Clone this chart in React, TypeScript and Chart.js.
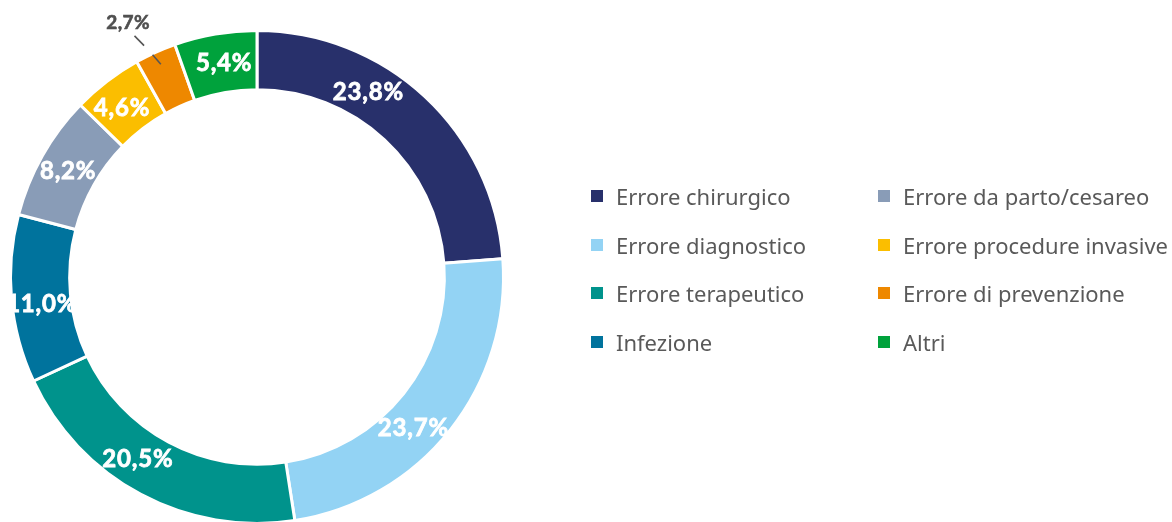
import React, { useEffect, useRef } from "react";
import { Chart, registerables } from "chart.js";

Chart.register(...registerables);

const categories = [
  "Errore chirurgico",
  "Errore diagnostico",
  "Errore terapeutico",
  "Infezione",
  "Errore da parto/cesareo",
  "Errore procedure invasive",
  "Errore di prevenzione",
  "Altri",
];
const values = [23.8, 23.7, 20.5, 11.0, 8.2, 4.6, 2.7, 5.4];
const valueLabels = ["23,8%", "23,7%", "20,5%", "11,0%", "8,2%", "4,6%", "2,7%", "5,4%"];
const colors = ["#28306b", "#93d3f4", "#00938c", "#00739d", "#899cb7", "#fbbe00", "#ee8800", "#00a23c"];
// label placement tweaks (degrees), outside flag
const labelAngleShift = [-12, 5.4, 5.2, -1.8, 0, -1, 0, 1];
const labelOutside = [false, false, false, false, false, false, true, false];

const labelPlugin = {
  id: "sliceLabels",
  afterDatasetsDraw(chart: any) {
    const ctx = chart.ctx;
    const meta = chart.getDatasetMeta(0);
    ctx.save();
    meta.data.forEach((arc: any, i: number) => {
      const p = arc.getProps(["x", "y", "startAngle", "endAngle", "innerRadius", "outerRadius"], true);
      const mid = (p.startAngle + p.endAngle) / 2;
      if (labelOutside[i]) {
        const seg = (r1: number, r2: number, a1: number, a2: number) => {
          ctx.beginPath();
          ctx.moveTo(p.x + r1 * Math.cos(a1), p.y + r1 * Math.sin(a1));
          ctx.lineTo(p.x + r2 * Math.cos(a2), p.y + r2 * Math.sin(a2));
          ctx.stroke();
        };
        ctx.strokeStyle = "#555555";
        ctx.lineWidth = 1.6;
        const a0 = mid;
        const a1 = mid - (2.6 * Math.PI) / 180;
        const rIn = p.outerRadius - 13;
        const rOut = p.outerRadius + 24;
        const f = (r: number) => a0 + ((a1 - a0) * (r - rIn)) / (rOut - rIn);
        seg(rIn, p.outerRadius - 1, a0, f(p.outerRadius - 1));
        seg(p.outerRadius + 11, rOut, f(p.outerRadius + 11), a1);
        const rt = p.outerRadius + 39;
        const at = mid - (2.5 * Math.PI) / 180;
        ctx.fillStyle = "#505050";
        ctx.strokeStyle = "#505050";
        ctx.lineWidth = 0.6;
        ctx.font = "bold 19px Lato";
        (ctx as any).letterSpacing = "0.5px";
        ctx.textAlign = "center";
        ctx.textBaseline = "middle";
        const tx = p.x + rt * Math.cos(at);
        const ty = p.y + rt * Math.sin(at) + 1;
        ctx.fillText(valueLabels[i], tx, ty);
        ctx.strokeText(valueLabels[i], tx, ty);
      } else {
        const a = mid + (labelAngleShift[i] * Math.PI) / 180;
        const r = (p.innerRadius + p.outerRadius) / 2;
        ctx.fillStyle = "#ffffff";
        ctx.strokeStyle = "#ffffff";
        ctx.lineWidth = 0.8;
        ctx.font = "bold 24px Lato";
        (ctx as any).letterSpacing = "0.8px";
        ctx.textAlign = "center";
        ctx.textBaseline = "middle";
        const tx = p.x + r * Math.cos(a);
        const ty = p.y + r * Math.sin(a) + 1;
        ctx.fillText(valueLabels[i], tx, ty);
        ctx.strokeText(valueLabels[i], tx, ty);
      }
    });
    ctx.restore();
  },
};

export default function App() {
  const ref = useRef<HTMLCanvasElement>(null);
  useEffect(() => {
    if (!ref.current) return;
    const chart = new Chart(ref.current, {
      type: "doughnut",
      data: {
        labels: categories,
        datasets: [
          {
            data: values,
            backgroundColor: colors,
            borderColor: "#ffffff",
            borderWidth: 3,
            hoverOffset: 0,
          },
        ],
      },
      options: {
        responsive: false,
        animation: false,
        cutout: "76%",
        layout: { padding: { left: 9, top: 29, right: 1172 - 9 - 496, bottom: 560 - 29 - 496 } },
        plugins: { legend: { display: false }, tooltip: { enabled: false } },
      },
      plugins: [labelPlugin],
    });
    return () => chart.destroy();
  }, []);

  const col1 = [0, 1, 2, 3];
  const col2 = [4, 5, 6, 7];
  const rowY = [196, 244.5, 293, 341.5];
  const item = (i: number, x: number, y: number) => (
    <div
      key={i}
      style={{
        position: "absolute",
        left: x,
        top: y - 16,
        height: 32,
        display: "flex",
        alignItems: "center",
        whiteSpace: "nowrap",
      }}
    >
      <span style={{ width: 12, height: 12, background: colors[i], display: "inline-block", marginRight: 13, flex: "none" }} />
      <span style={{ fontFamily: "'Noto Sans'", fontSize: 22, color: "#595959", lineHeight: "32px" }}>{categories[i]}</span>
    </div>
  );

  return (
    <div style={{ position: "absolute", left: 0, top: 0, width: 1172, height: 522, overflow: "hidden", background: "#fff" }}>
      <canvas ref={ref} width={1172} height={560} style={{ position: "absolute", left: 0, top: 0 }} />
      {col1.map((i, k) => item(i, 591, rowY[k]))}
      {col2.map((i, k) => item(i, 878, rowY[k]))}
    </div>
  );
}
